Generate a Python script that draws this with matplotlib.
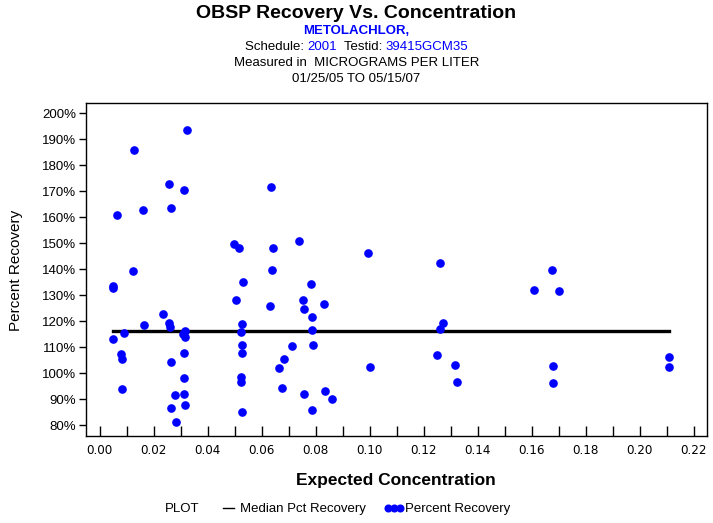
import matplotlib
matplotlib.use("Agg")
import matplotlib.pyplot as plt
from matplotlib.lines import Line2D
from matplotlib.ticker import FuncFormatter, MultipleLocator

# expected concentration (ug/L) and percent recovery
conc = [
    0.0322, 0.0126, 0.0257, 0.0312, 0.0065, 0.0162, 0.0265, 0.0497, 0.0517, 0.0738,
    0.0636, 0.0643, 0.0640, 0.0125, 0.0048, 0.0050, 0.0530, 0.0504, 0.0632, 0.0234,
    0.0165, 0.0257, 0.0259, 0.0526, 0.0091, 0.0049, 0.0315, 0.0310, 0.0314, 0.0523,
    0.0527, 0.0712, 0.0080, 0.0082, 0.0312, 0.0527, 0.0681, 0.0663, 0.0265, 0.0311,
    0.0525, 0.0525, 0.0675, 0.0083, 0.0280, 0.0312, 0.0316, 0.0263, 0.0527, 0.0282,
    0.0994, 0.1261, 0.0784, 0.0754, 0.0758, 0.0832, 0.0786, 0.0786, 0.1271, 0.1262,
    0.0789, 0.1250, 0.1003, 0.1316, 0.1324, 0.0757, 0.0836, 0.0862, 0.0786,
    0.1675, 0.1609, 0.1700, 0.1679, 0.1681, 0.2110, 0.2111,
]
recovery = [
    193.5, 185.8, 172.8, 170.6, 160.8, 162.8, 163.6, 149.9, 148.0, 150.9,
    171.8, 148.2, 139.9, 139.5, 133.6, 132.6, 134.9, 128.0, 125.8, 122.6,
    118.6, 119.2, 117.7, 119.0, 115.6, 113.1, 116.3, 115.0, 114.0, 116.0,
    111.0, 110.5, 107.3, 105.6, 107.7, 107.6, 105.3, 101.8, 104.3, 98.3,
    98.6, 96.7, 94.3, 93.8, 91.5, 91.9, 87.8, 86.4, 85.0, 81.2,
    146.2, 142.3, 134.5, 128.2, 124.6, 126.8, 121.7, 116.7, 119.2, 116.9,
    110.9, 106.8, 102.2, 103.1, 96.4, 92.0, 93.1, 90.1, 86.0,
    139.9, 132.2, 131.7, 102.8, 96.3, 106.4, 102.2,
]
median_recovery = 116.2

blue = "#0000ff"
plt.rcParams["font.family"] = ["Liberation Sans", "DejaVu Sans"]

fig = plt.figure(figsize=(7.13, 5.23), dpi=100)
ax = fig.add_axes([86 / 713, 1 - 436 / 523, 621 / 713, 333 / 523])

ax.plot([min(conc), max(conc)], [median_recovery, median_recovery],
        color="black", lw=2.4, zorder=2)
ax.plot(conc, recovery, "o", color=blue, ms=5.2, mec=blue, zorder=3)

ax.set_xlim(-0.0051, 0.2250)
ax.set_ylim(75.8, 204.0)
ax.xaxis.set_major_locator(MultipleLocator(0.02))
ax.xaxis.set_minor_locator(MultipleLocator(0.01))
ax.xaxis.set_major_formatter(FuncFormatter(lambda v, p: f"{v:.2f}"))
ax.yaxis.set_major_locator(MultipleLocator(10))
ax.yaxis.set_major_formatter(FuncFormatter(lambda v, p: f"{v:.0f}%"))
ax.tick_params(axis="x", which="both", direction="in", length=7, width=1, pad=6, labelsize=10)
ax.tick_params(axis="y", direction="out", length=5, width=1, pad=2, labelsize=9.5)
for lbl in ax.get_xticklabels():
    lbl.set_family("DejaVu Sans")
    lbl.set_stretch("condensed")
    lbl.set_fontsize(9.5)
for sp in ax.spines.values():
    sp.set_linewidth(1)

fig.text(16 / 713, 1 - 270 / 523, "Percent Recovery", rotation=90,
         ha="center", va="center", fontsize=11)
fig.text(396 / 713, 1 - 480 / 523, "Expected Concentration",
         ha="center", va="center", fontsize=12.5, fontweight="bold")

# titles
fig.text(0.5, 1 - 13 / 523, "OBSP Recovery Vs. Concentration",
         ha="center", va="center", fontsize=14, fontweight="bold")
fig.text(0.5, 1 - 31 / 523, "METOLACHLOR,", ha="center", va="center",
         fontsize=9.5, fontweight="bold", color=blue)
fig.text(0.5, 1 - 63 / 523, "Measured in  MICROGRAMS PER LITER",
         ha="center", va="center", fontsize=9.5)
fig.text(0.5, 1 - 79 / 523, "01/25/05 TO 05/15/07",
         ha="center", va="center", fontsize=9.5)

# mixed colour schedule line
parts = [("Schedule: ", "black"), ("2001", blue), ("  Testid: ", "black"), ("39415GCM35", blue)]
renderer = fig.canvas.get_renderer()
texts = [fig.text(0, 1 - 47 / 523, s, color=c, fontsize=9.5, va="center") for s, c in parts]
widths = [t.get_window_extent(renderer).width for t in texts]
x = (fig.bbox.width - sum(widths)) / 2
for t, w in zip(texts, widths):
    t.set_x(x / fig.bbox.width)
    x += w

# legend row
fig.text(165 / 713, 1 - 509 / 523, "PLOT", ha="left", va="center", fontsize=9.5)
handles = [
    Line2D([], [], color="black", lw=1),
    Line2D([], [], color=blue, marker="o", ls="none", ms=4.8),
]
fig.legend(handles, ["Median Pct Recovery", "Percent Recovery"], ncol=2,
           loc="center left", bbox_to_anchor=(212 / 713, 1 - 509 / 523),
           frameon=False, fontsize=9.5, numpoints=3, handlelength=1.5,
           handletextpad=0.1, columnspacing=1.4, borderpad=0)

fig.savefig("out.png", dpi=100)
